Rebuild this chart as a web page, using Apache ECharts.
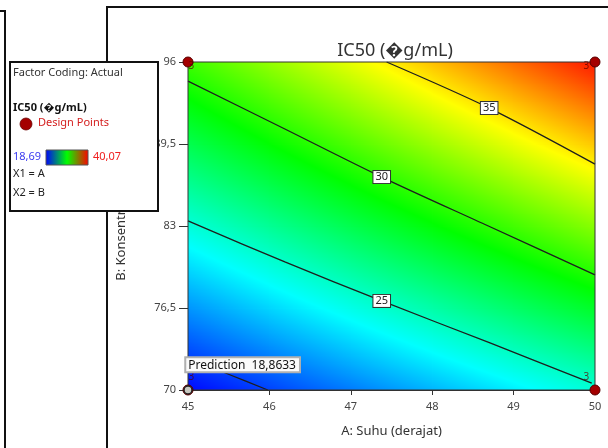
<!DOCTYPE html>
<html>
<head>
<meta charset="utf-8">
<script src="https://cdn.jsdelivr.net/npm/echarts@6/dist/echarts.min.js"></script>
<style>
html,body{margin:0;padding:0;background:#fff;}
#c{width:608px;height:448px;}
</style>
</head>
<body>
<div id="c"></div>
<script>
// ---- data ----
const suhu = [45, 46, 47, 48, 49, 50];                 // A: Suhu grid nodes
const konsentrasi = [70, 76.5, 83, 89.5, 96];          // B: Konsentrasi grid nodes
// IC50 estimated at each grid node, rows = konsentrasi, cols = suhu
const ic50 = [
  [18.86, 20.07, 21.28, 22.48, 23.69, 24.90],
  [21.82, 23.17, 24.52, 25.87, 27.22, 28.58],
  [24.78, 26.27, 27.77, 29.26, 30.76, 32.25],
  [27.74, 29.38, 31.01, 32.65, 34.29, 35.92],
  [30.70, 32.48, 34.26, 36.04, 37.82, 39.60]
];
const xTicks = [45, 46, 47, 48, 49, 50];
const yTicks = [70, 76.5, 83, 89.5, 96];
const contour20 = [[45, 72.54], [45.49, 71.27], [45.98, 70]];
const contour25 = [[45, 83.40], [46.19, 80.15], [47.38, 77.06], [48.71, 73.73], [49.96, 70.55]];
const contour30 = [[45, 94.49], [46.19, 90.69], [47.38, 86.88], [48.69, 83.00], [50, 79.12]];
const contour35 = [[47.44, 96], [48.70, 92.35], [50, 87.91]];
const contourLabels = [[47.38, 77.06, 25], [47.38, 86.88, 30], [48.70, 92.35, 35]];
const designPoints = [[45, 96, 3], [50, 96, 3], [50, 70, 3], [45, 70, 3]];
const prediction = [45, 70, 18.8633];
const colorMin = 18.69, colorMax = 40.07;

// ---- colour map (blue-cyan-green-yellow-red) ----
const cmapColors = [[0,0,255],[0,255,255],[0,255,0],[255,255,0],[255,0,0]];
function cmapStops(){ const s=[]; for(let i=0;i<cmapColors.length;i++) s.push(colorMin+(colorMax-colorMin)*i/(cmapColors.length-1)); return s; }
const cStops = cmapStops();
function colorOf(v){
  if (v<=cStops[0]) return 'rgb('+cmapColors[0].join(',')+')';
  for (let i=1;i<cStops.length;i++){
    if (v<=cStops[i]){
      const t=(v-cStops[i-1])/(cStops[i]-cStops[i-1]);
      const a=cmapColors[i-1], b=cmapColors[i];
      return 'rgb('+Math.round(a[0]+(b[0]-a[0])*t)+','+Math.round(a[1]+(b[1]-a[1])*t)+','+Math.round(a[2]+(b[2]-a[2])*t)+')';
    }
  }
  return 'rgb('+cmapColors[cmapColors.length-1].join(',')+')';
}

// cells built from the grid
const cells = [];
for (let j=0;j<konsentrasi.length-1;j++){
  for (let i=0;i<suhu.length-1;i++){
    cells.push([suhu[i], konsentrasi[j], suhu[i+1], konsentrasi[j+1],
      ic50[j][i], ic50[j][i+1], ic50[j+1][i], ic50[j+1][i+1]]);
  }
}

function renderCell(params, api){
  const a0=api.value(0), b0=api.value(1), a1=api.value(2), b1=api.value(3);
  const v00=api.value(4), v10=api.value(5), v01=api.value(6), v11=api.value(7);
  const p0=api.coord([a0,b0]), p1=api.coord([a1,b1]);
  const x0=p0[0], x1=p1[0], yB=p0[1], yT=p1[1];
  const h=yB-yT, n=Math.max(1,Math.ceil(h));
  const children=[];
  for (let k=0;k<n;k++){
    const y=yT+k*h/n;
    const f=1-(k+0.5)/n;
    const vL=v00+(v01-v00)*f, vR=v10+(v11-v10)*f;
    const stops=[{offset:0,color:colorOf(vL)}];
    const lo=Math.min(vL,vR), hi=Math.max(vL,vR);
    cStops.forEach(s=>{ if (s>lo && s<hi) stops.push({offset:(s-vL)/(vR-vL), color:colorOf(s)}); });
    stops.push({offset:1,color:colorOf(vR)});
    stops.sort((a,b)=>a.offset-b.offset);
    children.push({type:'rect', shape:{x:x0, y:y, width:x1-x0+0.7, height:h/n+0.7},
      style:{fill:new echarts.graphic.LinearGradient(0,0,1,0,stops)}});
  }
  return {type:'group', children};
}

const FONT = 'Noto Sans';
const fmt = v => String(v).replace('.', ',');
const lineStyle = {color:'#1e1e1e', width:1.3};

const chart = echarts.init(document.getElementById('c'), null, {renderer:'canvas'});
chart.setOption({
  backgroundColor:'#fff',
  animation:false,
  textStyle:{fontFamily:FONT},
  title:{text:'IC50 (\uFFFDg/mL)', left:390, top:37, textAlign:'center',
    textStyle:{fontFamily:FONT, fontSize:18, fontWeight:'normal', color:'#333'}},
  grid:{left:188, right:13, top:62, bottom:58, show:true, borderColor:'#333', borderWidth:1, backgroundColor:'transparent', z:10},
  xAxis:{type:'value', min:45, max:50, interval:1,
    name:'A: Suhu (derajat)', nameLocation:'middle', nameGap:35,
    nameTextStyle:{fontFamily:FONT, fontSize:13, color:'#333'},
    axisLine:{show:true, lineStyle:{color:'#333'}},
    axisTick:{show:true, length:5, lineStyle:{color:'#333'}},
    axisLabel:{fontFamily:FONT, fontSize:11, color:'#444', margin:11, formatter:fmt},
    splitLine:{show:false}},
  yAxis:{type:'value', min:70, max:96,
    name:'B: Konsentrasi (%)', nameLocation:'middle', nameGap:60, nameRotate:90,
    nameTextStyle:{fontFamily:FONT, fontSize:13, color:'#333'},
    axisLine:{show:true, lineStyle:{color:'#333'}},
    axisTick:{show:true, length:9, lineStyle:{color:'#333'}, customValues:yTicks},
    axisLabel:{fontFamily:FONT, fontSize:11, color:'#444', margin:12, formatter:fmt, customValues:yTicks},
    splitLine:{show:false}},
  series:[
    {type:'custom', renderItem:renderCell, data:cells, encode:{x:[0,2], y:[1,3]}, silent:true, clip:true, z:1},
    {type:'line', data:contour20, smooth:0.3, symbol:'none', lineStyle, z:5, silent:true},
    {type:'line', data:contour25, smooth:0.3, symbol:'none', lineStyle, z:5, silent:true},
    {type:'line', data:contour30, smooth:0.3, symbol:'none', lineStyle, z:5, silent:true},
    {type:'line', data:contour35, smooth:0.3, symbol:'none', lineStyle, z:5, silent:true},
    {type:'scatter', data:contourLabels, symbolSize:0, z:6, silent:true, itemStyle:{opacity:1},
      label:{show:true, position:'inside', formatter:p=>String(p.value[2]), fontFamily:FONT, fontSize:11, color:'#222',
        backgroundColor:'#fff', borderColor:'#333', borderWidth:1, padding:[1,2,0,2]}},
    {type:'scatter', data:designPoints.map((d,i)=>({value:d,
        label:{position:[[6,5],[-6,5],[-6,-12],[6,-12]][i]}})),
      symbolSize:10, clip:false, z:12, silent:true,
      itemStyle:{color:'#a40000', borderColor:'#5a0000', borderWidth:1, opacity:1},
      label:{show:true, formatter:p=>String(p.value[2]), fontFamily:FONT, fontSize:10, color:'rgba(90,0,0,0.75)'}},
    {type:'scatter', data:[prediction], symbolSize:8, clip:false, z:13, silent:true,
      itemStyle:{color:'#c8c8c0', borderColor:'#222', borderWidth:1.5, opacity:1},
      label:{show:true, position:[3,-27], align:'left', verticalAlign:'top',
        formatter:p=>'Prediction  '+fmt(p.value[2]), fontFamily:FONT, fontSize:12, color:'#111',
        backgroundColor:'#fbfbfb', borderColor:'#b0b0b0', borderWidth:2, padding:[1,3,0,2]}}
  ],
  graphic:[
    {type:'polyline', z:100, shape:{points:[[0,11],[5,11],[5,448]]}, style:{stroke:'#111', lineWidth:2, fill:null}},
    {type:'polyline', z:100, shape:{points:[[107,448],[107,7],[608,7]]}, style:{stroke:'#111', lineWidth:2, fill:null}},
    {type:'group', z:100, children:[
      {type:'rect', z:100, shape:{x:10, y:62, width:148, height:149}, style:{fill:'#fff', stroke:'#111', lineWidth:2}},
      {type:'text', z:101, left:13, top:67, style:{text:'Factor Coding: Actual', font:'11px "Noto Sans"', fill:'#333'}},
      {type:'text', z:101, left:13, top:102, style:{text:'IC50 (\uFFFDg/mL)', font:'bold 11px "Noto Sans"', fill:'#111'}},
      {type:'circle', z:101, shape:{cx:26, cy:124, r:6}, style:{fill:'#a40000', stroke:'#6a0000', lineWidth:0.8}},
      {type:'text', z:101, left:38, top:117, style:{text:'Design Points', font:'11px "Noto Sans"', fill:'#d42020'}},
      {type:'text', z:101, left:13, top:151, style:{text:fmt(colorMin), font:'11px "Noto Sans"', fill:'#3a3af0'}},
      {type:'rect', z:101, shape:{x:46, y:150, width:42, height:15},
        style:{fill:new echarts.graphic.LinearGradient(0,0,1,0,[{offset:0,color:'#0000ff'},{offset:0.5,color:'#00ff00'},{offset:1,color:'#ff0000'}]), stroke:'#555', lineWidth:1}},
      {type:'text', z:101, left:93, top:151, style:{text:fmt(colorMax), font:'11px "Noto Sans"', fill:'#f02020'}},
      {type:'text', z:101, left:13, top:168, style:{text:'X1 = A', font:'11px "Noto Sans"', fill:'#222'}},
      {type:'text', z:101, left:13, top:187, style:{text:'X2 = B', font:'11px "Noto Sans"', fill:'#222'}}
    ]}
  ]
});
</script>
</body>
</html>
